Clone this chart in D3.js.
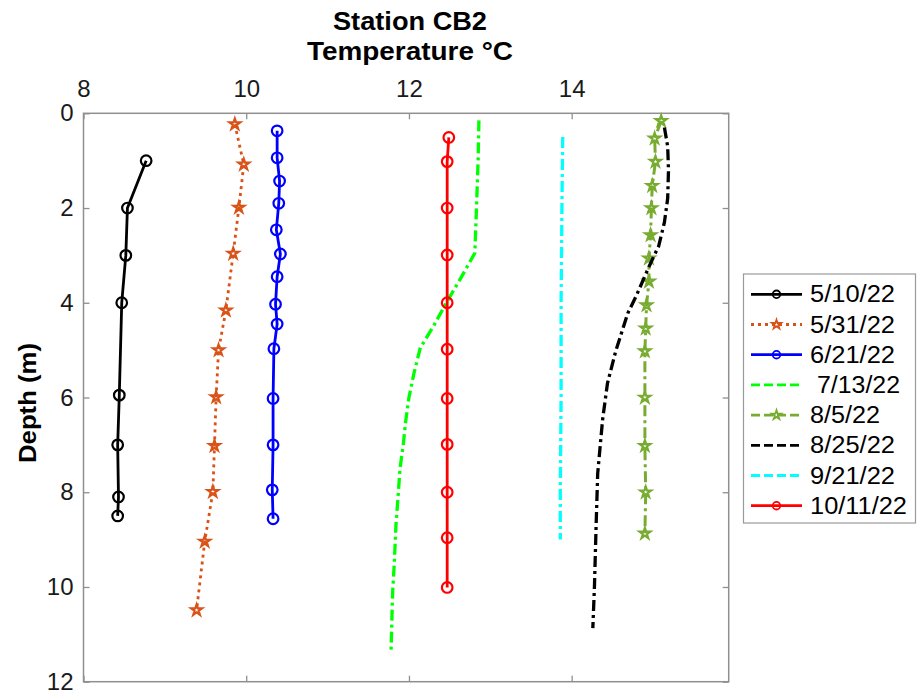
<!DOCTYPE html>
<html>
<head>
<meta charset="utf-8">
<script src="https://cdn.jsdelivr.net/npm/d3@7"></script>
<style>
  html, body { margin: 0; padding: 0; background: #ffffff; }
  svg { display: block; font-family: Helvetica, Arial, "Liberation Sans", sans-serif; }
</style>
</head>
<body>
<svg id="chart" width="917" height="698"></svg>
<script>
// ---------- data ----------
const seriesNames = ["5/10/22", "5/31/22", "6/21/22", " 7/13/22", "8/5/22", "8/25/22", "9/21/22", "10/11/22"];
const xTicks = [8, 10, 12, 14];
const yTicks = [0, 2, 4, 6, 8, 10, 12];

const temp_0510  = [8.77, 8.54, 8.52, 8.47, 8.44, 8.42, 8.43, 8.42];
const depth_0510 = [1.0, 2.0, 3.0, 4.0, 5.95, 7.0, 8.1, 8.5];

const temp_0531  = [9.86, 9.97, 9.91, 9.84, 9.75, 9.66, 9.63, 9.61, 9.59, 9.49, 9.39];
const depth_0531 = [0.23, 1.08, 1.99, 2.96, 4.16, 5.0, 5.99, 7.02, 7.99, 9.04, 10.49];

const temp_0621  = [10.38, 10.38, 10.41, 10.40, 10.37, 10.42, 10.38, 10.36, 10.38, 10.34, 10.33, 10.33, 10.32, 10.33];
const depth_0621 = [0.37, 0.94, 1.43, 1.90, 2.46, 2.97, 3.45, 4.03, 4.45, 4.97, 6.02, 7.0, 7.95, 8.56];

const temp_0713  = [12.86, 12.85, 12.83, 12.81, 12.63, 12.46, 12.30, 12.14, 12.06, 12.0, 11.96, 11.93, 11.89, 11.87, 11.84, 11.82, 11.80, 11.79, 11.78];
const depth_0713 = [0.15, 1.0, 2.0, 2.95, 3.5, 4.0, 4.5, 4.95, 5.5, 6.0, 6.5, 7.0, 7.5, 8.0, 8.7, 9.5, 10.1, 10.7, 11.35];

const temp_0805  = [15.10, 15.02, 15.03, 14.99, 14.98, 14.97, 14.95, 14.95, 14.92, 14.91, 14.90, 14.90, 14.90, 14.91, 14.90];
const depth_0805 = [0.16, 0.53, 1.02, 1.53, 2.0, 2.57, 3.06, 3.55, 4.05, 4.54, 5.02, 6.0, 7.02, 8.0, 8.87];

const temp_0825  = [15.14, 15.18, 15.19, 15.18, 15.14, 15.07, 14.95, 14.79, 14.69, 14.54, 14.44, 14.38, 14.32, 14.30, 14.28, 14.26];
const depth_0825 = [0.3, 0.7, 1.2, 1.8, 2.3, 2.8, 3.24, 3.87, 4.22, 5.03, 5.7, 6.47, 7.6, 8.73, 9.99, 10.87];

const temp_0921  = [13.89, 13.88, 13.87, 13.87, 13.86, 13.86];
const depth_0921 = [0.5, 2.0, 4.0, 6.0, 8.0, 9.0];

const temp_1011  = [12.49, 12.47, 12.47, 12.47, 12.47, 12.47, 12.47, 12.47, 12.47, 12.47, 12.47];
const depth_1011 = [0.51, 1.02, 2.0, 2.99, 4.0, 4.98, 6.02, 6.99, 8.0, 8.96, 10.01];

const seriesTemps  = [temp_0510, temp_0531, temp_0621, temp_0713, temp_0805, temp_0825, temp_0921, temp_1011];
const seriesDepths = [depth_0510, depth_0531, depth_0621, depth_0713, depth_0805, depth_0825, depth_0921, depth_1011];

// ---------- styles ----------
const DASHDOT = "11,4,3,4";
const styles = [
  { color: "#000000", dash: null,    marker: "circle", width: 2.8 },
  { color: "#D95319", dash: "3,4",   marker: "star",   width: 2.8 },
  { color: "#0000FF", dash: null,    marker: "circle", width: 2.8 },
  { color: "#00FF00", dash: DASHDOT, marker: null,     width: 3.3 },
  { color: "#77AC30", dash: DASHDOT, marker: "star",   width: 3.0 },
  { color: "#000000", dash: DASHDOT, marker: null,     width: 3.3 },
  { color: "#00FFFF", dash: DASHDOT, marker: null,     width: 3.3 },
  { color: "#FF0000", dash: null,    marker: "circle", width: 2.8 }
];
const legendTextLen = [85, 85, 85, 84, 70, 85, 85, 97];

// ---------- layout ----------
const plot = { left: 83.5, right: 728.7, top: 113.3, bottom: 681.7 };
const svg = d3.select("#chart");

const x = d3.scaleLinear().domain([8, 15.93]).range([plot.left, plot.right]);
const y = d3.scaleLinear().domain([0, 12]).range([plot.top, plot.bottom]);

const axisColor = "#8f8f8f";

svg.append("rect").attr("x", plot.left).attr("y", plot.top)
  .attr("width", plot.right - plot.left).attr("height", plot.bottom - plot.top)
  .attr("fill", "#ffffff");

function styleAxis(g, showLabels) {
  g.select(".domain").remove();
  g.selectAll(".tick line").attr("stroke", axisColor).attr("stroke-width", 1.3);
  g.selectAll(".tick text").attr("fill", "#1a1a1a").attr("font-size", "24px");
  if (!showLabels) g.selectAll(".tick text").remove();
}

svg.append("g").attr("transform", `translate(0,${plot.top})`)
  .call(d3.axisTop(x).tickValues(xTicks).tickFormat(d3.format("d")).tickSizeInner(-6).tickSizeOuter(0).tickPadding(16))
  .call(g => styleAxis(g, true));
svg.append("g").attr("transform", `translate(0,${plot.bottom})`)
  .call(d3.axisBottom(x).tickValues(xTicks).tickSizeInner(-6).tickSizeOuter(0))
  .call(g => styleAxis(g, false));
svg.append("g").attr("transform", `translate(${plot.left},0)`)
  .call(d3.axisLeft(y).tickValues(yTicks).tickFormat(d3.format("d")).tickSizeInner(-6).tickSizeOuter(0).tickPadding(10))
  .call(g => styleAxis(g, true));
svg.append("g").attr("transform", `translate(${plot.right},0)`)
  .call(d3.axisRight(y).tickValues(yTicks).tickSizeInner(-6).tickSizeOuter(0))
  .call(g => styleAxis(g, false));

svg.append("rect").attr("x", plot.left).attr("y", plot.top)
  .attr("width", plot.right - plot.left).attr("height", plot.bottom - plot.top)
  .attr("fill", "none").attr("stroke", axisColor).attr("stroke-width", 1.5);

// titles
svg.append("text").attr("x", 410).attr("y", 30).attr("text-anchor", "middle")
  .attr("font-size", "25px").attr("font-weight", "bold").attr("fill", "#000")
  .attr("textLength", 154).attr("lengthAdjust", "spacingAndGlyphs")
  .text("Station CB2");
svg.append("text").attr("x", 410).attr("y", 60).attr("text-anchor", "middle")
  .attr("font-size", "25px").attr("font-weight", "bold").attr("fill", "#000")
  .attr("textLength", 206).attr("lengthAdjust", "spacingAndGlyphs")
  .text("Temperature °C");
svg.append("text").attr("transform", "translate(36,403) rotate(-90)")
  .attr("text-anchor", "middle").attr("font-size", "24px").attr("font-weight", "bold").attr("fill", "#000")
  .attr("textLength", 120).attr("lengthAdjust", "spacingAndGlyphs")
  .text("Depth (m)");

// series
const plotG = svg.append("g");
const line = d3.line().x(d => x(d[0])).y(d => y(d[1]));
const star = d3.symbol().type(d3.symbolStar);

seriesNames.forEach((name, i) => {
  const st = styles[i];
  const pts = seriesTemps[i].map((t, k) => [t, seriesDepths[i][k]]);
  plotG.append("path").datum(pts).attr("d", line)
    .attr("fill", "none").attr("stroke", st.color).attr("stroke-width", st.width)
    .attr("stroke-dasharray", st.dash).attr("stroke-linejoin", "round");
  if (st.marker === "circle") {
    plotG.selectAll(null).data(pts).enter().append("circle")
      .attr("cx", d => x(d[0])).attr("cy", d => y(d[1])).attr("r", 5.3)
      .attr("fill", "none").attr("stroke", st.color).attr("stroke-width", 2.2);
  } else if (st.marker === "star") {
    plotG.selectAll(null).data(pts).enter().append("path")
      .attr("d", star.size(36)())
      .attr("transform", d => `translate(${x(d[0])},${y(d[1])})`)
      .attr("fill", "none").attr("stroke", st.color).attr("stroke-width", 2.2);
  }
});

// legend
const leg = { x: 743.5, y: 274, w: 172, h: 249, row0: 294.3, step: 30.2 };
const legG = svg.append("g");
legG.append("rect").attr("x", leg.x).attr("y", leg.y).attr("width", leg.w).attr("height", leg.h)
  .attr("fill", "#ffffff").attr("stroke", "#9a9a9a").attr("stroke-width", 1.2);

seriesNames.forEach((name, i) => {
  const st = styles[i];
  const cy = leg.row0 + i * leg.step;
  legG.append("line").attr("x1", 751).attr("x2", 802).attr("y1", cy).attr("y2", cy)
    .attr("stroke", st.color).attr("stroke-width", 2.8).attr("stroke-dasharray", st.dash ? (st.dash === DASHDOT ? "9,4" : st.dash) : null);
  if (st.marker === "circle") {
    legG.append("circle").attr("cx", 776.5).attr("cy", cy).attr("r", 3.8)
      .attr("fill", "none").attr("stroke", st.color).attr("stroke-width", 1.8);
  } else if (st.marker === "star") {
    legG.append("path").attr("d", star.size(26)())
      .attr("transform", `translate(776.5,${cy})`)
      .attr("fill", "none").attr("stroke", st.color).attr("stroke-width", 1.8);
  }
  legG.append("text").attr("x", 810).attr("y", cy + 8)
    .attr("font-size", "23px").attr("fill", "#000")
    .style("white-space", "pre")
    .attr("textLength", legendTextLen[i] + (name.startsWith(" ") ? 6 : 0)).attr("lengthAdjust", "spacingAndGlyphs")
    .text(name);
});
</script>
</body>
</html>
